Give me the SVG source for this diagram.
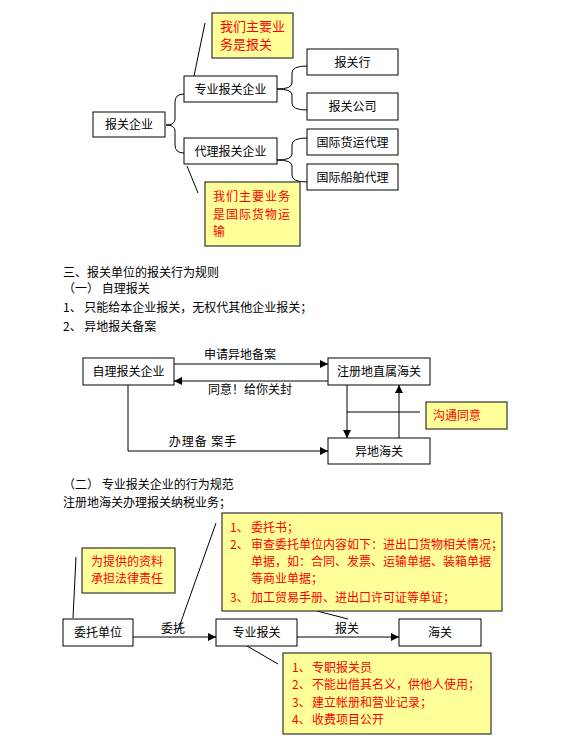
<svg xmlns="http://www.w3.org/2000/svg" width="567" height="749" viewBox="0 0 567 749">
<defs>
<marker id="ah" viewBox="0 0 10 10" refX="10" refY="5" markerWidth="8" markerHeight="8" markerUnits="userSpaceOnUse" orient="auto"><path d="M0,0 L10,5 L0,10 z" fill="#000"/></marker>
<style>
text{font-family:"Noto Sans CJK SC","Liberation Sans",sans-serif;font-size:12px;fill:#000}
.box{fill:#fff;stroke:#000;stroke-width:1}
.note{fill:#ffff99;stroke:#333;stroke-width:1.2}
.red{fill:#ff0000}
.ln{fill:none;stroke:#000;stroke-width:1}
.c{text-anchor:middle}
</style>
</defs>
<rect width="567" height="749" fill="#fff"/>
<g id="connectors">
<path class="ln" d="M184,94 Q175,94 175,102 L175,119 Q175,125 166,125 Q175,125 175,131 L175,145 Q175,153 184,153"/>
<path class="ln" d="M307,66 Q292,66 292,73 L292,83 Q292,89 277,89 Q292,89 292,95 L292,103 Q292,110 307,110"/>
<path class="ln" d="M307,138 Q292,138 292,145 L292,154 Q292,160 277,160 Q292,160 292,166 L292,175 Q292,182 307,182"/>
<line class="ln" x1="205" y1="23" x2="194" y2="76"/>
<line class="ln" x1="187" y1="166" x2="198" y2="193"/>
<line class="ln" x1="174" y1="364" x2="328" y2="364" marker-end="url(#ah)"/>
<line class="ln" x1="328" y1="381" x2="174" y2="381" marker-end="url(#ah)"/>
<line class="ln" x1="347" y1="385" x2="347" y2="438" marker-end="url(#ah)"/>
<line class="ln" x1="399" y1="438" x2="399" y2="385" marker-end="url(#ah)"/>
<line class="ln" x1="347" y1="412" x2="420" y2="412"/>
<polyline class="ln" points="128,385 128,451 328,451" marker-end="url(#ah)"/>
<line class="ln" x1="133" y1="637" x2="216" y2="637" marker-end="url(#ah)"/>
<line class="ln" x1="297" y1="637" x2="399" y2="637" marker-end="url(#ah)"/>
<line class="ln" x1="73" y1="618" x2="76" y2="557"/>
<line class="ln" x1="177" y1="633" x2="216" y2="523"/>
<line class="ln" x1="317" y1="611" x2="348" y2="619"/>
<line class="ln" x1="247" y1="646" x2="278" y2="664"/>
</g>
<g id="n_bgqy"><rect class="box" x="93" y="112" width="72" height="25"/><text class="c" x="129" y="129">报关企业</text></g>
<g id="n_zybgqy"><rect class="box" x="184" y="76" width="93" height="26"/><text class="c" x="230.5" y="93.5">专业报关企业</text></g>
<g id="n_dlbgqy"><rect class="box" x="184" y="138" width="93" height="26"/><text class="c" x="230.5" y="155.5">代理报关企业</text></g>
<g id="n_bgh"><rect class="box" x="307" y="49" width="91" height="26"/><text class="c" x="352.5" y="66.5">报关行</text></g>
<g id="n_bggs"><rect class="box" x="307" y="93" width="91" height="27"/><text class="c" x="352.5" y="111">报关公司</text></g>
<g id="n_gjhy"><rect class="box" x="307" y="129" width="91" height="26"/><text class="c" x="352.5" y="146.5">国际货运代理</text></g>
<g id="n_gjcb"><rect class="box" x="307" y="164" width="91" height="26"/><text class="c" x="352.5" y="181.5">国际船舶代理</text></g>
<g id="note1"><rect class="note" x="212" y="13" width="81" height="45"/><text class="red" x="220" y="31" style="font-size:13px">我们主要业</text><text class="red" x="220" y="49" style="font-size:13px">务是报关</text></g>
<g id="note2"><rect class="note" x="205" y="182" width="95" height="64"/><text class="red" x="213" y="200.5" letter-spacing="1">我们主要业务</text><text class="red" x="213" y="218.5" letter-spacing="1">是国际货物运</text><text class="red" x="213" y="235.5">输</text></g>
<g id="section1">
<text x="63" y="276.5">三、报关单位的报关行为规则</text>
<text x="63" y="292.5">（一） 自理报关</text>
<text x="63" y="311.5">1、 只能给本企业报关，无权代其他企业报关；</text>
<text x="63" y="330.5">2、 异地报关备案</text>
</g>
<g id="n_zlbgqy"><rect class="box" x="83" y="358" width="91" height="27"/><text class="c" x="128.5" y="376">自理报关企业</text></g>
<g id="n_zcd"><rect class="box" x="328" y="358" width="102" height="27"/><text class="c" x="379" y="376">注册地直属海关</text></g>
<g id="n_ydhg"><rect class="box" x="328" y="438" width="102" height="26"/><text class="c" x="379" y="455.5">异地海关</text></g>
<g id="note3"><rect class="note" x="426" y="402" width="81" height="27"/><text class="red" x="433" y="420">沟通同意</text></g>
<g id="labels_mid">
<text class="c" x="240" y="358.5">申请异地备案</text>
<text class="c" x="250" y="393.5">同意！给你关封</text>
<text class="c" x="203" y="445.5" letter-spacing="1">办理备 案手</text>
</g>
<g id="section2">
<text x="63" y="488.5">（二） 专业报关企业的行为规范</text>
<text x="63" y="506.5">注册地海关办理报关纳税业务；</text>
</g>
<g id="note4"><rect class="note" x="222" y="513" width="280" height="98"/>
<text class="red" x="230" y="531.5">1、</text><text class="red" x="251" y="531.5">委托书；</text>
<text class="red" x="230" y="548.5">2、</text><text class="red" x="251" y="548.5">审查委托单位内容如下：进出口货物相关情况；</text>
<text class="red" x="251" y="565.5">单据，如：合同、发票、运输单据、装箱单据</text>
<text class="red" x="251" y="582.5">等商业单据；</text>
<text class="red" x="230" y="601.5">3、</text><text class="red" x="251" y="601.5">加工贸易手册、进出口许可证等单证；</text>
</g>
<g id="note5"><rect class="note" x="82" y="548" width="93" height="45"/><text class="red" x="91" y="565.5">为提供的资料</text><text class="red" x="91" y="582.5">承担法律责任</text></g>
<g id="n_wtdw"><rect class="box" x="63" y="619" width="70" height="27"/><text class="c" x="98" y="637">委托单位</text></g>
<g id="n_zybg"><rect class="box" x="216" y="619" width="81" height="27"/><text class="c" x="256.5" y="637">专业报关</text></g>
<g id="n_hg"><rect class="box" x="399" y="619" width="82" height="27"/><text class="c" x="440" y="637">海关</text></g>
<g id="labels_bot">
<text class="c" x="173" y="632.5">委托</text>
<text class="c" x="347" y="632.5">报关</text>
</g>
<g id="note6"><rect class="note" x="283" y="653" width="208" height="81"/>
<text class="red" x="292" y="671.5">1、</text><text class="red" x="312" y="671.5">专职报关员</text>
<text class="red" x="292" y="688.5">2、</text><text class="red" x="312" y="688.5">不能出借其名义，供他人使用；</text>
<text class="red" x="292" y="706.5">3、</text><text class="red" x="312" y="706.5">建立帐册和营业记录；</text>
<text class="red" x="292" y="723.5">4、</text><text class="red" x="312" y="723.5">收费项目公开</text>
</g>
</svg>
